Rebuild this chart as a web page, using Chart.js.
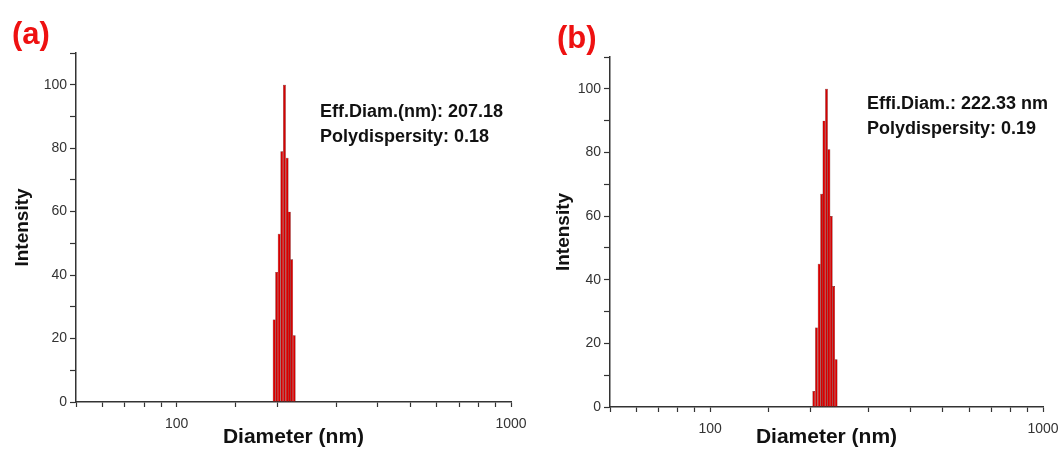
<!DOCTYPE html>
<html>
<head>
<meta charset="utf-8">
<script src="https://cdn.jsdelivr.net/npm/chart.js@4"></script>
<style>
  body { margin: 0; background: #fff; width: 1061px; height: 449px; position: relative; overflow: hidden;
         font-family: Arial, "Liberation Sans", sans-serif; }
  canvas { position: absolute; top: 0; }
  #chartA { left: 0; }
  #chartB { left: 540px; }
  .tag { position: absolute; color: #ee1111; font-weight: bold; font-size: 31px; line-height: 31px; }
  .note { position: absolute; color: #111; font-weight: bold; font-size: 18px; line-height: 25px; white-space: nowrap; }
</style>
</head>
<body>
<canvas id="chartA" width="530" height="449"></canvas>
<canvas id="chartB" width="521" height="449"></canvas>
<div class="tag" style="left:12px; top:18px;">(a)</div>
<div class="tag" style="left:557px; top:22px;">(b)</div>
<div class="note" style="left:320px; top:99px;">Eff.Diam.(nm): 207.18<br>Polydispersity: 0.18</div>
<div class="note" style="left:867px; top:91px;">Effi.Diam.: 222.33 nm<br>Polydispersity: 0.19</div>
<script>
// diameters (nm) and intensities
const diamA = [195.7, 199.1, 202.6, 206.3, 210.1, 214.0, 217.4, 220.8, 224.7];
const intensityA = [26, 41, 53, 79, 100, 77, 60, 45, 21];

const diamB = [204.8, 208.6, 212.5, 216.2, 219.7, 223.6, 227.4, 231.1, 234.9, 239.0];
const intensityB = [5, 25, 45, 67, 90, 100, 81, 60, 38, 15];

const xLabels = [100, 1000];
const yLabels = [0, 20, 40, 60, 80, 100];

const FONT = "Arial, 'Liberation Sans', sans-serif";
const AXIS = '#333';

function makeChart(id, diam, intensity, box) {
    const ctx = document.getElementById(id).getContext('2d');
    return new Chart(ctx, {
        type: 'bar',
        data: {
            datasets: [{
                data: diam.map((d, i) => ({ x: d, y: intensity[i] })),
                backgroundColor: '#d60000',
                borderColor: '#400000',
                borderWidth: 0.45,
                barPercentage: box.barPct,
                categoryPercentage: 1
            }]
        },
        options: {
            responsive: false,
            animation: false,
            devicePixelRatio: 1,
            layout: { padding: { top: box.top, right: box.right, left: 0, bottom: 0 } },
            plugins: { legend: { display: false }, tooltip: { enabled: false } },
            scales: {
                x: {
                    type: 'logarithmic',
                    min: 50, max: 1000,
                    offset: false,
                    grid: { offset: false, drawOnChartArea: false, tickLength: 5, color: AXIS, tickWidth: 1.2 },
                    border: { color: AXIS, width: 1.5 },
                    ticks: {
                        autoSkip: false, maxRotation: 0, padding: 9,
                        color: '#333', font: { family: FONT, size: 14 },
                        callback: v => xLabels.includes(v) ? String(v) : ''
                    },
                    title: {
                        display: true, text: 'Diameter (nm)', color: '#111',
                        font: { family: FONT, size: 21, weight: 'bold', lineHeight: 1 },
                        padding: { top: 0, bottom: 1 }
                    },
                    afterFit: s => { s.height = box.xh; s.paddingLeft = 0; s.paddingRight = 0; }
                },
                y: {
                    min: 0, max: 110,
                    grid: { drawOnChartArea: false, tickLength: 6, color: AXIS, tickWidth: 1.2 },
                    border: { color: AXIS, width: 1.5 },
                    ticks: {
                        stepSize: 10, autoSkip: false, padding: 3,
                        color: '#333', font: { family: FONT, size: 14 },
                        callback: v => yLabels.includes(v) ? String(v) : ''
                    },
                    title: {
                        display: true, text: 'Intensity', color: '#111',
                        font: { family: FONT, size: 19, weight: 'bold' },
                        padding: { top: box.ytitle, bottom: 0 }
                    },
                    afterFit: s => { s.width = box.yw; s.paddingTop = 0; s.paddingBottom = 0; }
                }
            }
        }
    });
}

makeChart('chartA', diamA, intensityA, { top: 53, right: 19, xh: 47, yw: 76, ytitle: 11.5, barPct: 1.26 });
makeChart('chartB', diamB, intensityB, { top: 57, right: 18, xh: 42, yw: 70, ytitle: 12.5, barPct: 1.2 });
</script>
</body>
</html>
